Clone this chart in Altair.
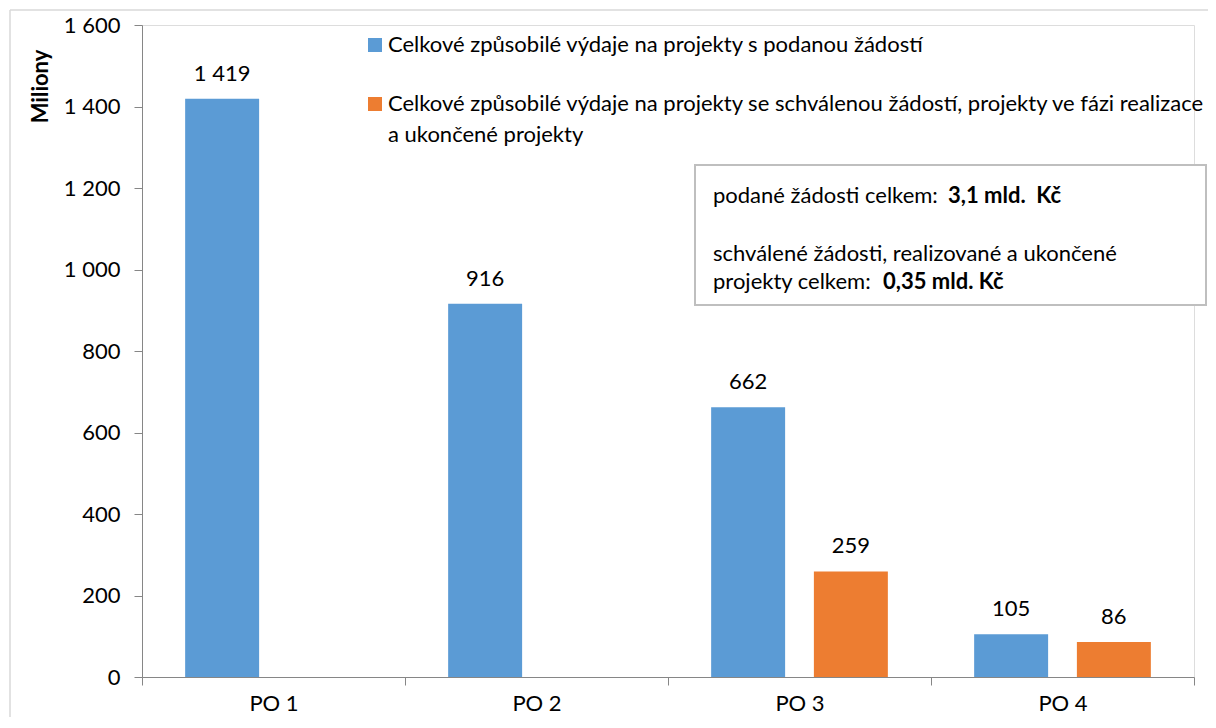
import altair as alt
import pandas as pd

# ---- data ----
categories = ["PO 1", "PO 2", "PO 3", "PO 4"]
series_names = [
    "Celkové způsobilé výdaje na projekty s podanou žádostí",
    "Celkové způsobilé výdaje na projekty se schválenou žádostí, projekty ve fázi realizace a ukončené projekty",
]
submitted = [1419, 916, 662, 105]
approved = [None, None, 259, 86]
y_ticks = [0, 200, 400, 600, 800, 1000, 1200, 1400, 1600]
colors = ["#5B9BD5", "#ED7D31"]

legend_lines_1 = ["Celkové způsobilé výdaje na projekty s podanou žádostí"]
legend_lines_2 = [
    "Celkové způsobilé výdaje na projekty se schválenou žádostí, projekty ve fázi realizace",
    "a ukončené projekty",
]
box_line1_normal = "podané žádosti celkem: "
box_line1_bold = "3,1 mld. \u00a0Kč"
box_line2 = "schválené žádosti, realizované a ukončené"
box_line3_normal = "projekty celkem: "
box_line3_bold = "0,35 mld. Kč"

rows = []
for c, v in zip(categories, submitted):
    rows.append({"kategorie": c, "serie": series_names[0], "hodnota": v})
for c, v in zip(categories, approved):
    if v is not None:
        rows.append({"kategorie": c, "serie": series_names[1], "hodnota": v})
df = pd.DataFrame(rows)

FONT = "Lato"
FS = 22
W, H = 1052, 652

x_enc = alt.X(
    "kategorie:N",
    sort=categories,
    scale=alt.Scale(paddingInner=0, paddingOuter=0),
    axis=alt.Axis(
        title=None,
        labelAngle=0,
        tickBand="extent",
        tickSize=8,
        labelPadding=8,
        labelFontSize=FS,
        labelFont=FONT,
        labelColor="#000000",
        domainColor="#868686",
        tickColor="#868686",
    ),
)
xoff_enc = alt.XOffset(
    "serie:N",
    sort=series_names,
    scale=alt.Scale(domain=series_names, paddingInner=0.28, paddingOuter=0.42),
)
y_enc = alt.Y(
    "hodnota:Q",
    scale=alt.Scale(domain=[0, 1600], nice=False),
    axis=alt.Axis(
        title="Miliony",
        values=y_ticks,
        grid=False,
        tickSize=8,
        labelPadding=14,
        labelFontSize=FS,
        labelFont=FONT,
        labelColor="#000000",
        labelExpr="replace(format(datum.value, ','), ',', ' ')",
        domainColor="#868686",
        tickColor="#868686",
        titleFont=FONT,
        titleFontSize=FS,
        titleFontWeight="bold",
        titleColor="#000000",
        titleAngle=270,
        titleAlign="center",
        titleBaseline="middle",
        titleX=-102,
        titleY=61,
    ),
)
color_enc = alt.Color(
    "serie:N",
    scale=alt.Scale(domain=series_names, range=colors),
    legend=None,
)

bars = alt.Chart(df).mark_bar().encode(
    x=x_enc, xOffset=xoff_enc, y=y_enc, color=color_enc
)

labels = alt.Chart(df).transform_calculate(
    popisek="replace(format(datum.hodnota, ','), ',', ' ')"
).mark_text(
    baseline="bottom", dy=-13, font=FONT, fontSize=FS, color="#000000"
).encode(
    x=alt.X("kategorie:N", sort=categories),
    xOffset=alt.XOffset("serie:N", sort=series_names),
    y=alt.Y("hodnota:Q"),
    text="popisek:N",
)

one = pd.DataFrame({"k": [0]})

# outer chart frame: only left and top edges fall inside the picture
frame_top = alt.Chart(one).mark_rule(color="#D9D9D9", strokeWidth=1.5).encode(
    x=alt.value(-132), x2=alt.value(W + 60), y=alt.value(-15)
)
frame_left = alt.Chart(one).mark_rule(color="#D9D9D9", strokeWidth=1.5).encode(
    x=alt.value(-132), y=alt.value(-15), y2=alt.value(H + 80)
)

# manual legend
leg_sq1 = alt.Chart(one).mark_rect(color=colors[0]).encode(
    x=alt.value(226), x2=alt.value(240), y=alt.value(13), y2=alt.value(27)
)
leg_sq2 = alt.Chart(one).mark_rect(color=colors[1]).encode(
    x=alt.value(226), x2=alt.value(240), y=alt.value(72), y2=alt.value(86)
)
leg_txt = []
for txt, yy in [(legend_lines_1[0], 20), (legend_lines_2[0], 79), (legend_lines_2[1], 110)]:
    leg_txt.append(
        alt.Chart(one).mark_text(
            align="left", baseline="middle", font=FONT, fontSize=FS, color="#000000", text=txt
        ).encode(x=alt.value(246), y=alt.value(yy))
    )

# annotation box
box = alt.Chart(one).mark_rect(
    fill="#FFFFFF", stroke="#BFBFBF", strokeWidth=2
).encode(
    x=alt.value(553), x2=alt.value(1064), y=alt.value(140), y2=alt.value(280)
)
box_txt = [
    alt.Chart(one).mark_text(align="left", baseline="middle", font=FONT, fontSize=FS,
                             color="#000000", text=box_line1_normal
                             ).encode(x=alt.value(571), y=alt.value(171)),
    alt.Chart(one).mark_text(align="left", baseline="middle", font=FONT, fontSize=FS,
                             fontWeight="bold", color="#000000", text=box_line1_bold
                             ).encode(x=alt.value(806), y=alt.value(171)),
    alt.Chart(one).mark_text(align="left", baseline="middle", font=FONT, fontSize=FS,
                             color="#000000", text=box_line2
                             ).encode(x=alt.value(571), y=alt.value(229)),
    alt.Chart(one).mark_text(align="left", baseline="middle", font=FONT, fontSize=FS,
                             color="#000000", text=box_line3_normal
                             ).encode(x=alt.value(571), y=alt.value(257)),
    alt.Chart(one).mark_text(align="left", baseline="middle", font=FONT, fontSize=FS,
                             fontWeight="bold", color="#000000", text=box_line3_bold
                             ).encode(x=alt.value(741), y=alt.value(257)),
]

chart = alt.layer(
    frame_top, frame_left, bars, labels, leg_sq1, leg_sq2, *leg_txt, box, *box_txt
).properties(
    width=W,
    height=H,
    autosize=alt.AutoSizeParams(type="none"),
    padding={"left": 134, "top": 17, "right": 14, "bottom": 40},
).configure_view(
    stroke=None
).configure(
    background="#FFFFFF"
)

chart.save("out.html", embed_options={"renderer": "svg", "actions": False})
